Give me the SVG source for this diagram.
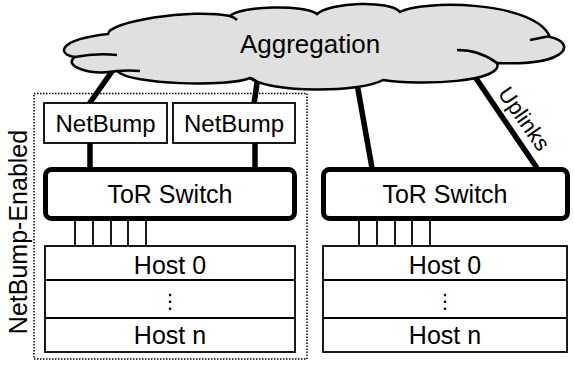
<svg xmlns="http://www.w3.org/2000/svg" width="574" height="367" viewBox="0 0 574 367">
<style>
text{font-family:"Liberation Sans",Arial,sans-serif;fill:#000}
.lbl{font-size:25px;text-anchor:middle}
.nb{font-size:24px}
.box{fill:#fff;stroke:#000;stroke-width:1.8}
.tor{fill:#fff;stroke:#000;stroke-width:5}
.up{stroke:#000;stroke-width:5.5;fill:none}
.port{stroke:#000;stroke-width:1.8;fill:none}
.cloud{fill:#e0e0e0;stroke:#000;stroke-width:2.5}
.tail{fill:none;stroke:#000;stroke-width:2.5}
.dots{font-family:"DejaVu Sans",sans-serif;font-size:20px}
</style>
<rect width="574" height="367" fill="#fff"/>
<g id="connectors">
<line class="up" x1="113" y1="70" x2="89" y2="104"/>
<line class="up" x1="258" y1="76" x2="254" y2="104"/>
<line class="up" x1="356" y1="78" x2="372" y2="168"/>
<line class="up" x1="469" y1="68" x2="537" y2="168"/>
<line class="up" x1="90" y1="143" x2="90" y2="169"/>
<line class="up" x1="255" y1="143" x2="255" y2="169"/>
<path class="port" d="M75,221V246M93,221V246M111,221V246M128,221V246M146,221V246"/>
<path class="port" d="M359,221V246M377,221V246M395,221V246M412,221V246M430,221V246"/>
</g>
<g id="aggregation">
<path class="cloud" d="M108,34 C108,22 190,8 230,16 C240,6 305,4 317,14 C330,2 390,0 400,12 C420,0 535,0 550,37 C575,42 572,66 497,63 C505,82 420,86 383,80 C360,93 270,93 250,78 C230,87 130,85 117,71 C90,76 62,66 75,57 C58,55 55,40 108,34 Z"/>
<path class="tail" d="M75,57 Q95,53 117,55 M117,71 Q128,70 140,71 M250,78 Q254,79 257,82 M230,16 Q234,17 237,20 M497,63 Q480,50 457,50 M550,36 Q540,38 530,40"/>
<text class="lbl" x="310" y="53" style="font-size:26px">Aggregation</text>
</g>
<g id="enabled-region">
<rect x="34" y="93.5" width="273" height="265.5" fill="none" stroke="#000" stroke-width="1.5" stroke-dasharray="1.5,1.5"/>
<text class="lbl" transform="translate(27,232) rotate(-90)">NetBump-Enabled</text>
</g>
<g id="netbump-1">
<rect class="box" x="44" y="103" width="123" height="40"/>
<text class="lbl nb" x="105.5" y="132">NetBump</text>
</g>
<g id="netbump-2">
<rect class="box" x="173" y="103" width="122" height="40"/>
<text class="lbl nb" x="234" y="132">NetBump</text>
</g>
<g id="tor-1">
<rect class="tor" x="45.5" y="169.5" width="249" height="49" rx="6"/>
<text class="lbl" x="170" y="203">ToR Switch</text>
</g>
<g id="hosts-1">
<rect class="box" x="45" y="246" width="250" height="106"/>
<line class="port" x1="45" y1="280" x2="295" y2="280"/>
<line class="port" x1="45" y1="318" x2="295" y2="318"/>
<text class="lbl" x="170" y="274">Host 0</text>
<text class="lbl dots" x="170" y="308">⋮</text>
<text class="lbl" x="170" y="344">Host n</text>
</g>
<g id="tor-2">
<rect class="tor" x="323.5" y="169.5" width="244" height="49" rx="6"/>
<text class="lbl" x="445" y="203">ToR Switch</text>
</g>
<g id="hosts-2">
<rect class="box" x="323" y="246" width="244" height="106"/>
<line class="port" x1="323" y1="280" x2="567" y2="280"/>
<line class="port" x1="323" y1="318" x2="567" y2="318"/>
<text class="lbl" x="445" y="274">Host 0</text>
<text class="lbl dots" x="445" y="308">⋮</text>
<text class="lbl" x="445" y="344">Host n</text>
</g>
<text class="lbl" transform="translate(518,123) rotate(55)" style="font-size:22px">Uplinks</text>
</svg>
